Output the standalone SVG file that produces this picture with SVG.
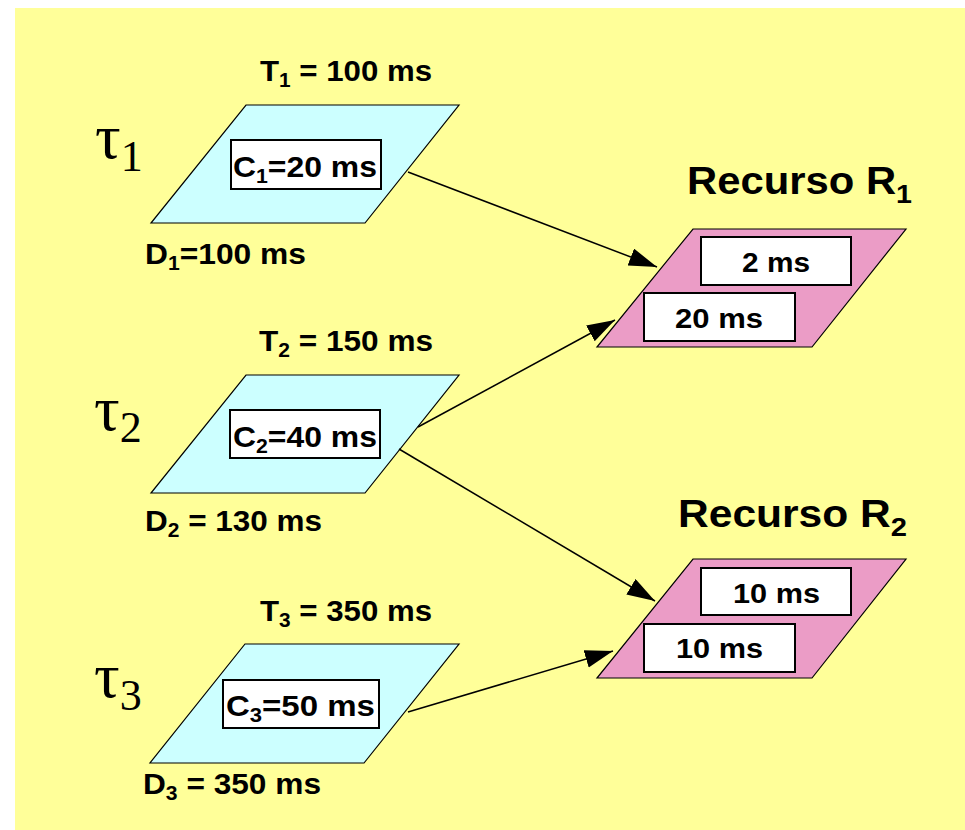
<svg xmlns="http://www.w3.org/2000/svg" width="965" height="830" viewBox="0 0 965 830">
<defs>
<style>
.bg{fill:#FFFF99}
.task{fill:#CCFFFF;stroke:#000;stroke-width:1.2}
.res{fill:#EB9CC6;stroke:#000;stroke-width:1.2}
.box{fill:#FFFFFF;stroke:#000;stroke-width:2}
.t{font-family:"Liberation Sans",Arial,sans-serif;font-weight:bold;fill:#000}
.lbl{font-size:30px}
.big{font-size:38px}
.ms{font-size:27px}
.tau{font-family:"Liberation Serif","Times New Roman",serif;fill:#000}
.conn{stroke:#000;stroke-width:1.5;fill:none;marker-end:url(#ah)}
</style>
<marker id="ah" markerUnits="userSpaceOnUse" markerWidth="30" markerHeight="20" refX="28" refY="9" orient="auto">
<path d="M0,0 L28,9 L0,18 z" fill="#000"/>
</marker>
</defs>
<rect class="bg" x="15" y="8" width="950" height="822"/>

<g id="task1">
<polygon class="task" points="246,105 459,105 365,223 151,223"/>
<rect class="box" x="231" y="140" width="150" height="49"/>
<text class="t lbl" x="233" y="177" textLength="144" lengthAdjust="spacingAndGlyphs">C<tspan font-size="20" dy="6">1</tspan><tspan dy="-6">=20 ms</tspan></text>
<text class="t lbl" x="260" y="81" textLength="172" lengthAdjust="spacingAndGlyphs">T<tspan font-size="20" dy="6">1</tspan><tspan dy="-6"> = 100 ms</tspan></text>
<text class="t lbl" x="145" y="264" textLength="161" lengthAdjust="spacingAndGlyphs">D<tspan font-size="20" dy="6">1</tspan><tspan dy="-6">=100 ms</tspan></text>
<text class="tau" x="95" y="158" font-size="64">τ<tspan font-size="44" dy="13">1</tspan></text>
</g>

<g id="task2">
<polygon class="task" points="246,375 459,375 365,493 151,493"/>
<rect class="box" x="230" y="410" width="150" height="48"/>
<text class="t lbl" x="233" y="447" textLength="144" lengthAdjust="spacingAndGlyphs">C<tspan font-size="20" dy="6">2</tspan><tspan dy="-6">=40 ms</tspan></text>
<text class="t lbl" x="259" y="351" textLength="174" lengthAdjust="spacingAndGlyphs">T<tspan font-size="20" dy="6">2</tspan><tspan dy="-6"> = 150 ms</tspan></text>
<text class="t lbl" x="145" y="531" textLength="177" lengthAdjust="spacingAndGlyphs">D<tspan font-size="20" dy="6">2</tspan><tspan dy="-6"> = 130 ms</tspan></text>
<text class="tau" x="94" y="430" font-size="64">τ<tspan font-size="44" dy="12">2</tspan></text>
</g>

<g id="task3">
<polygon class="task" points="245,644 459,644 364,763 150,763"/>
<rect class="box" x="223" y="680" width="156" height="48"/>
<text class="t lbl" x="226" y="716" textLength="149" lengthAdjust="spacingAndGlyphs">C<tspan font-size="20" dy="6">3</tspan><tspan dy="-6">=50 ms</tspan></text>
<text class="t lbl" x="260" y="621" textLength="172" lengthAdjust="spacingAndGlyphs">T<tspan font-size="20" dy="6">3</tspan><tspan dy="-6"> = 350 ms</tspan></text>
<text class="t lbl" x="143" y="794" textLength="178" lengthAdjust="spacingAndGlyphs">D<tspan font-size="20" dy="6">3</tspan><tspan dy="-6"> = 350 ms</tspan></text>
<text class="tau" x="94" y="697" font-size="64">τ<tspan font-size="44" dy="13">3</tspan></text>
</g>

<g id="resource1">
<text class="t big" x="687" y="194" textLength="225" lengthAdjust="spacingAndGlyphs">Recurso R<tspan font-size="26" dy="9">1</tspan></text>
<polygon class="res" points="693,229 906,229 812,347 597,347"/>
<rect class="box" x="701" y="237" width="150" height="48"/>
<text class="t ms" x="742" y="272" textLength="68" lengthAdjust="spacingAndGlyphs">2 ms</text>
<rect class="box" x="644" y="293" width="151" height="48"/>
<text class="t ms" x="675" y="328" textLength="88" lengthAdjust="spacingAndGlyphs">20 ms</text>
</g>

<g id="resource2">
<text class="t big" x="678" y="527" textLength="229" lengthAdjust="spacingAndGlyphs">Recurso R<tspan font-size="26" dy="9">2</tspan></text>
<polygon class="res" points="693,559 906,559 812,678 597,678"/>
<rect class="box" x="701" y="568" width="150" height="47"/>
<text class="t ms" x="733" y="603" textLength="87" lengthAdjust="spacingAndGlyphs">10 ms</text>
<rect class="box" x="644" y="624" width="151" height="48"/>
<text class="t ms" x="676" y="658" textLength="87" lengthAdjust="spacingAndGlyphs">10 ms</text>
</g>

<g id="connectors">
<line class="conn" x1="408" y1="172" x2="657" y2="267"/>
<line class="conn" x1="418" y1="427" x2="615" y2="320"/>
<line class="conn" x1="399" y1="449" x2="655" y2="601"/>
<line class="conn" x1="408" y1="712" x2="613" y2="651"/>
</g>
</svg>
